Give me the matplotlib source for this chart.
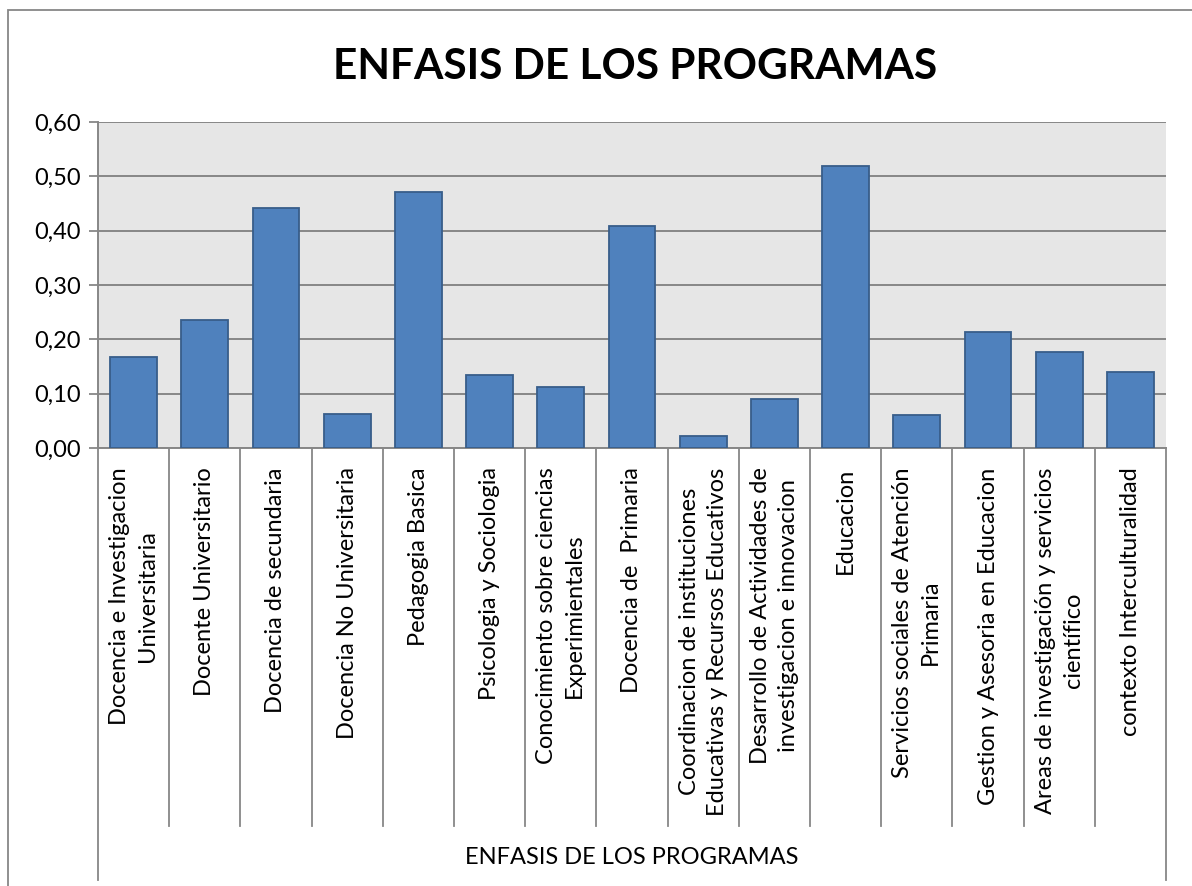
import matplotlib
matplotlib.use("Agg")
import matplotlib.pyplot as plt
import numpy as np
from matplotlib.lines import Line2D
from matplotlib.patches import Rectangle
from matplotlib.ticker import FuncFormatter

plt.rcParams["font.family"] = ["Lato", "DejaVu Sans"]

# datos
categorias = [
    "Docencia e Investigacion\nUniversitaria",
    "Docente Universitario",
    "Docencia de secundaria",
    "Docencia No Universitaria",
    "Pedagogia Basica",
    "Psicologia y Sociologia",
    "Conocimiento sobre ciencias\nExperimientales",
    "Docencia de  Primaria",
    "Coordinacion de instituciones\nEducativas y Recursos Educativos",
    "Desarrollo de Actividades de\ninvestigacion e innovacion",
    "Educacion",
    "Servicios sociales de Atención\nPrimaria",
    "Gestion y Asesoria en Educacion",
    "Areas de investigación y servicios\ncientífico",
    "contexto Interculturalidad",
]
valores = [0.168, 0.236, 0.441, 0.063, 0.471, 0.134, 0.113, 0.408,
           0.022, 0.091, 0.519, 0.060, 0.214, 0.176, 0.140]
y_ticks = [0.0, 0.1, 0.2, 0.3, 0.4, 0.5, 0.6]

titulo = "ENFASIS DE LOS PROGRAMAS"
grupo = "ENFASIS DE LOS PROGRAMAS"

W, H = 1192, 886
fig = plt.figure(figsize=(W / 100, H / 100), dpi=100)
ax = fig.add_axes([98 / W, 1 - 448 / H, (1166 - 98) / W, (448 - 122) / H])

gris = "#878787"
ax.set_facecolor("#E6E6E6")

x = np.arange(len(categorias))
ax.bar(x, valores, width=0.66, color="#4F81BD", edgecolor="#385D8A",
       linewidth=1.3, zorder=3)

ax.set_xlim(-0.5, len(categorias) - 0.5)
ax.set_ylim(0, 0.6)
ax.set_yticks(y_ticks)
ax.yaxis.set_major_formatter(FuncFormatter(lambda v, p: f"{v:.2f}".replace(".", ",")))
ax.yaxis.grid(True, color=gris, linewidth=1.4, zorder=1)
ax.tick_params(axis="y", length=6.5, width=1.3, color=gris, pad=6,
               labelsize=17, labelcolor="black")

ax.set_xticks(x)
ax.set_xticklabels(categorias, rotation=90, ha="center", va="top",
                   multialignment="center", fontsize=17, linespacing=1.4)
ax.tick_params(axis="x", length=0, pad=14)

for s in ["top", "right"]:
    ax.spines[s].set_visible(False)
for s in ["left", "bottom"]:
    ax.spines[s].set_color(gris)
    ax.spines[s].set_linewidth(1.4)

# divisiones de categorias bajo el eje
tr = ax.get_xaxis_transform()
fondo_div = -(826 - 448) / (448 - 122)
fondo_grp = -(880 - 448) / (448 - 122)
for i in range(len(categorias) + 1):
    xb = i - 0.5
    y1 = fondo_grp if i in (0, len(categorias)) else fondo_div
    ax.add_line(Line2D([xb, xb], [0, y1], transform=tr, color=gris,
                       linewidth=1.3, clip_on=False))

ax.text(0.5, -(858 - 448) / (448 - 122), grupo, transform=ax.transAxes,
        ha="center", va="center", fontsize=17)

fig.text(0.533, 1 - 67 / H, titulo, ha="center", va="center",
         fontsize=30.5, fontweight="bold")

# borde del grafico
fig.add_artist(Rectangle((8 / W, -0.05), 1.1, 1 - 10 / H + 0.05,
                         transform=fig.transFigure, fill=False,
                         edgecolor=gris, linewidth=1.3))

fig.savefig("out.png", dpi=100)
plt.close(fig)
